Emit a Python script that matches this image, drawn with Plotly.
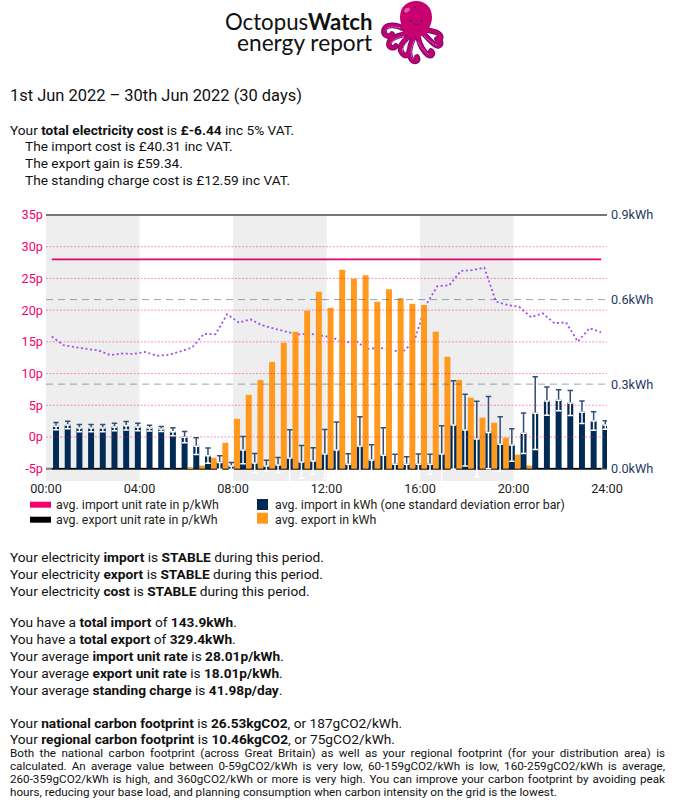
import base64
import plotly.graph_objects as go

W, H = 674, 810
L, R, T, B = 46, 607, 215, 481

slots = [i * 0.5 for i in range(48)]
import_kwh = [.151,.155,.144,.144,.144,.148,.152,.148,.144,.141,.131,.112,.080,.046,.022,.010,.066,.020,.010,.013,.038,.024,.027,.052,.066,.016,.080,.031,.048,.016,.016,.016,.016,.052,.155,.137,.105,.128,.087,.084,.126,.197,.240,.243,.233,.200,.169,.155]
import_sd = [.013,.013,.013,.013,.013,.013,.015,.013,.010,.009,.014,.020,.030,.027,.024,.012,.048,.034,.020,.027,.100,.058,.047,.087,.100,.037,.104,.054,.097,.035,.026,.036,.035,.100,.157,.127,.134,.128,.097,.058,.072,.129,.050,.037,.044,.040,.033,.015]
export_kwh = [0,0,0,0,0,0,0,0,0,0,0,0,.004,.011,.039,.092,.177,.262,.315,.379,.447,.486,.560,.628,.571,.706,.674,.686,.592,.637,.605,.585,.581,.486,.397,.315,.252,.181,.163,.110,.050,.011,0,0,0,0,0,0]
profile_p = [15.84,14.47,14.16,13.95,13.64,12.9,13.16,13.1,13.4,12.8,12.95,13.5,14.1,16.25,16.2,19.35,18.05,18.55,17.6,17.1,16.6,16.15,16.3,15.95,15.7,14.85,15.15,13.85,14.1,13.7,13.4,15.05,20.8,23.8,23.9,26.2,26.3,26.7,21.35,20.8,20.5,18.9,19.5,17.95,18.05,15.05,17.15,16.5]
import_rate = [28.01] * 48
export_rate = [-5.0] * 48

x_ticks = [0, 4, 8, 12, 16, 20, 24]
x_labels = ["00:00", "04:00", "08:00", "12:00", "16:00", "20:00", "24:00"]
p_ticks = [-5, 0, 5, 10, 15, 20, 25, 30, 35]
p_labels = ["-5p", "0p", "5p", "10p", "15p", "20p", "25p", "30p", "35p"]
kwh_ticks = [0, 0.3, 0.6, 0.9]
kwh_labels = ["0.0kWh", "0.3kWh", "0.6kWh", "0.9kWh"]
bands = [(0, 4), (8, 12), (16, 20)]

NAVY = "#002b57"
ORANGE = "#ff9a1f"
PINK = "#f5006e"
FONT = "Roboto"

centres = [s + 0.25 for s in slots]

fig = go.Figure()
fig.add_bar(x=slots, y=export_kwh, yaxis="y2", marker=dict(color=ORANGE, line_width=0),
            offset=0.045, width=0.256)
fig.add_bar(x=slots, y=import_kwh, yaxis="y2", marker=dict(color=NAVY, line_width=0),
            offset=0.301, width=0.256,
            error_y=dict(type="data", symmetric=False, array=import_sd, arrayminus=[0] * 48,
                         color="#2f5075", thickness=1.5, width=2.7))
fig.add_bar(x=slots, y=import_kwh, yaxis="y2", marker=dict(color="rgba(0,0,0,0)", line_width=0),
            offset=0.301, width=0.256,
            error_y=dict(type="data", symmetric=False, array=[0] * 48, arrayminus=import_sd,
                         color="#ffffff", thickness=1.5, width=2.7))
fig.add_scatter(x=centres, y=import_rate, mode="lines", line=dict(color="#e6006e", width=1.8))
fig.add_scatter(x=centres, y=export_rate, mode="lines", line=dict(color="#000000", width=1.6))
fig.add_scatter(x=centres, y=profile_p, mode="lines", line=dict(color="#a04df0", width=1.8, dash="2px,2.6px"))


def px(x):
    return (x - L) / (R - L)


def py(y):
    return (B - y) / (B - T)


shapes = []
for a, b in bands:
    shapes.append(dict(type="rect", layer="below", xref="x", yref="paper", x0=a, x1=b, y0=0, y1=1,
                       fillcolor="#eeeeee", line_width=0))
for t in p_ticks[1:-1]:
    shapes.append(dict(type="line", layer="above", xref="x", yref="y", x0=0, x1=24, y0=t, y1=t,
                       line=dict(color="rgba(245,0,110,0.42)", width=1, dash="2px,1.5px")))
for t in kwh_ticks[1:-1]:
    shapes.append(dict(type="line", layer="above", xref="x", yref="y2", x0=0, x1=24, y0=t, y1=t,
                       line=dict(color="rgba(30,60,100,0.45)", width=1, dash="7px,5px")))
shapes.append(dict(type="rect", layer="above", xref="paper", yref="paper", x0=0, x1=1, y0=py(216), y1=py(214),
                   fillcolor="#757575", line_width=0))
shapes.append(dict(type="line", layer="below", xref="paper", yref="paper", x0=0, x1=1, y0=py(468.7), y1=py(468.7),
                   line=dict(color="#777777", width=2)))

# legend swatches
shapes += [
    dict(type="rect", xref="paper", yref="paper", x0=px(30), x1=px(51), y0=py(507.7), y1=py(501.7), fillcolor="#f5006e", line_width=0),
    dict(type="rect", xref="paper", yref="paper", x0=px(30), x1=px(51), y0=py(522.7), y1=py(516.7), fillcolor="#000000", line_width=0),
    dict(type="rect", xref="paper", yref="paper", x0=px(257), x1=px(268), y0=py(510), y1=py(499), fillcolor=NAVY, line_width=0),
    dict(type="rect", xref="paper", yref="paper", x0=px(257), x1=px(268), y0=py(523.7), y1=py(512.7), fillcolor=ORANGE, line_width=0),
]

anns = []


def text(x, y, s, size=13.7, color="#111111", family=FONT, anchor="left"):
    dx = -2 if anchor == "left" else 2
    anns.append(dict(xref="paper", yref="paper", x=px(x + dx), y=py(y), text=s, showarrow=False,
                     xanchor=anchor, yanchor="middle", align="left",
                     font=dict(size=size, color=color, family=family)))


text(225, 22, "Octopus<b>Watch</b>", 22.2, "#111111", "Lato", "left")
text(372, 43, "energy report", 22.7, "#111111", "Lato", "right")

text(10, 96, "1st Jun 2022 – 30th Jun 2022 (30 days)", 16.45)
text(10, 130, "Your <b>total electricity cost</b> is <b>£-6.44</b> inc 5% VAT.")
text(25, 146, "The import cost is £40.31 inc VAT.")
text(25, 163, "The export gain is £59.34.")
text(25, 180, "The standing charge cost is £12.59 inc VAT.")

text(56, 504, "avg. import unit rate in p/kWh", 12.4, "#222222")
text(56, 519, "avg. export unit rate in p/kWh", 12.4, "#222222")
text(275, 504, "avg. import in kWh (one standard deviation error bar)", 12.4, "#222222")
text(275, 519, "avg. export in kWh", 12.4, "#222222")

text(10, 557, "Your electricity <b>import</b> is <b>STABLE</b> during this period.")
text(10, 574, "Your electricity <b>export</b> is <b>STABLE</b> during this period.")
text(10, 591, "Your electricity <b>cost</b> is <b>STABLE</b> during this period.")
text(10, 622, "You have a <b>total import</b> of <b>143.9kWh</b>.")
text(10, 639, "You have a <b>total export</b> of <b>329.4kWh</b>.")
text(10, 656, "Your average <b>import unit rate</b> is <b>28.01p/kWh</b>.")
text(10, 673, "Your average <b>export unit rate</b> is <b>18.01p/kWh</b>.")
text(10, 690, "Your average <b>standing charge</b> is <b>41.98p/day</b>.")
text(10, 723, "Your <b>national carbon footprint</b> is <b>26.53kgCO2</b>, or 187gCO2/kWh.")
text(10, 739, "Your <b>regional carbon footprint</b> is <b>10.46kgCO2</b>, or 75gCO2/kWh.")
text(10, 753, "Both the national carbon footprint (across Great Britain) as well as your regional footprint (for your distribution area) is", 11.66)
text(10, 766, "calculated. An average value between 0-59gCO2/kWh is very low, 60-159gCO2/kWh is low, 160-259gCO2/kWh is average,", 11.66)
text(10, 779, "260-359gCO2/kWh is high, and 360gCO2/kWh or more is very high. You can improve your carbon footprint by avoiding peak", 11.66)
text(10, 792, "hours, reducing your base load, and planning consumption when carbon intensity on the grid is the lowest.", 11.66)

logo_svg = """<svg xmlns='http://www.w3.org/2000/svg' viewBox='380 0 65 68' width='650' height='680'>
<g fill='none' stroke-linecap='round' stroke-linejoin='round'>
<g stroke='#7a0a6e' stroke-width='5.6'>
<path d='M404 29 C396 24 386 24 384 30 C383 36 390 38 392 34'/>
<path d='M405 34 C397 36 390 38 389 43 C388 48 394 49 396 46'/>
<path d='M410 36 C402 42 398 48 402 53 C405 57 410 56 409 52'/>
<path d='M414 37 C409 46 408 55 412 60 C415 63 419 61 417 57'/>
<path d='M418 37 C420 46 424 52 428 55 C432 57 434 53 431 51'/>
<path d='M423 33 C428 38 434 46 438 46 C442 45 441 40 438 40'/>
<path d='M426 30 C431 31 437 31 440 35 C442 38 439 41 437 39'/>
</g>
<g stroke='#c4006e' stroke-width='3.6'>
<path d='M404 29 C396 24 386 24 384 30 C383 36 390 38 392 34'/>
<path d='M405 34 C397 36 390 38 389 43 C388 48 394 49 396 46'/>
<path d='M410 36 C402 42 398 48 402 53 C405 57 410 56 409 52'/>
<path d='M414 37 C409 46 408 55 412 60 C415 63 419 61 417 57'/>
<path d='M418 37 C420 46 424 52 428 55 C432 57 434 53 431 51'/>
<path d='M423 33 C428 38 434 46 438 46 C442 45 441 40 438 40'/>
<path d='M426 30 C431 31 437 31 440 35 C442 38 439 41 437 39'/>
</g>
<g stroke='#b866f0' stroke-width='1' stroke-dasharray='2 1.5'>
<path d='M400 28 C394 26 388 27 386 30'/>
<path d='M404 36 C398 38 392 40 391 43'/>
<path d='M409 40 C404 45 401 49 403 52'/>
<path d='M414 41 C411 48 410 54 413 59'/>
<path d='M418 42 C421 47 424 51 428 54'/>
<path d='M424 36 C428 40 433 44 437 45'/>
</g>
</g>
<path d='M400 17 C400 6 408 1 416 1 C425 1 432 7 432 17 C432 25 428 29 427 33 C425 38 407 38 405 33 C404 29 400 25 400 17 Z' fill='#c9006f'/>
<ellipse cx='407' cy='10' rx='3.2' ry='2' fill='#e85aa5' transform='rotate(-35 407 10)'/>
<circle cx='411' cy='21' r='1' fill='#5c0a4a'/>
<circle cx='422' cy='21' r='1' fill='#5c0a4a'/>
<path d='M414 24 Q416.5 26 419 24' stroke='#5c0a4a' stroke-width='.8' fill='none'/>
<circle cx='415' cy='7' r='1' fill='#8a0060'/>
<circle cx='419' cy='6' r='.7' fill='#8a0060'/>
<circle cx='420' cy='30' r='.8' fill='#8a0060'/>
</svg>"""
logo_uri = "data:image/svg+xml;base64," + base64.b64encode(logo_svg.encode()).decode()

fig.update_layout(
    width=W, height=H, margin=dict(l=L, r=W - R, t=T, b=H - B, pad=0),
    paper_bgcolor="white", plot_bgcolor="white", showlegend=False, barmode="overlay",
    font=dict(family=FONT, size=12.7),
    shapes=shapes, annotations=anns,
    images=[dict(source=logo_uri, xref="paper", yref="paper", x=px(380), y=py(0), sizex=65 / (R - L), sizey=68 / (B - T),
                 xanchor="left", yanchor="top", sizing="stretch", layer="above")],
    xaxis=dict(range=[0, 24], tickvals=x_ticks, ticktext=x_labels, showgrid=False, zeroline=False,
               ticks="", tickfont=dict(size=12.7, color="#222222", family=FONT), showline=False, ticklabelstandoff=-2),
    yaxis=dict(range=[-5 - 12.3 / 6.3425, 35], tickvals=p_ticks, ticktext=p_labels, showgrid=False, zeroline=False,
               ticks="", tickfont=dict(size=12.7, color=PINK, family=FONT), showline=False, ticklabelstandoff=2),
    yaxis2=dict(range=[-12.3 / 281.9, 0.9], overlaying="y", side="right", tickvals=kwh_ticks, ticktext=kwh_labels,
                showgrid=False, zeroline=False, ticks="", tickfont=dict(size=12.7, color="#1f3a5f", family=FONT),
                showline=False, ticklabelstandoff=3),
)

justify = """
document.body.style.margin='0';document.documentElement.style.overflow='hidden';
document.querySelectorAll('.annotation-text').forEach(function(t){
  var s=t.textContent;
  if(!/^(Both the national|calculated\\. An|260-359gCO2)/.test(s))return;
  var a=t.getBBox().x, w=t.getComputedTextLength(), n=s.split(' ').length-1;
  t.style.wordSpacing=((655-w)/n)+'px';
  var b=t.getBBox().x, x=parseFloat(t.getAttribute('x')||0);
  t.setAttribute('x',x+(a-b));
  t.querySelectorAll('tspan[x]').forEach(function(q){q.setAttribute('x',parseFloat(q.getAttribute('x'))+(a-b));});
});
"""
fig.write_html("out.html", config=dict(displayModeBar=False), post_script=justify)
